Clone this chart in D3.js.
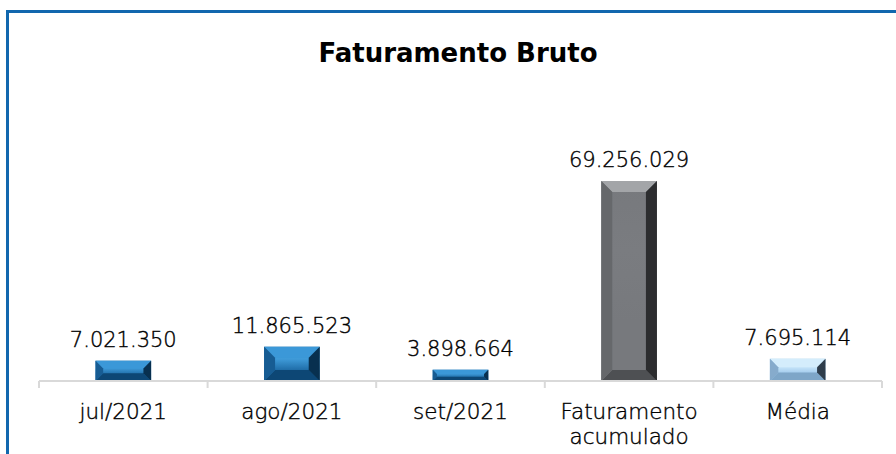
<!DOCTYPE html>
<meta charset="utf-8">
<style>
body { margin: 0; background: #fff; }
svg { display: block; }
.title { font-family: "DejaVu Sans", sans-serif; font-weight: bold; font-size: 26px; fill: #000; }
.val, .cat { font-family: "DejaVu Sans", sans-serif; font-weight: 300; font-size: 21px; fill: #000; stroke: #000; stroke-width: 0.4px; }
.cat { font-size: 21.5px; }
.axis path, .axis line { stroke: #d9d9d9; stroke-width: 2px; }
</style>
<svg width="896" height="454"></svg>
<script src="https://cdn.jsdelivr.net/npm/d3@7"></script>
<script>

var categories = ["jul/2021", "ago/2021", "set/2021", "Faturamento acumulado", "Média"];
var values = [7021350, 11865523, 3898664, 69256029, 7695114];
var styles = ["blue", "blue", "blue", "gray", "light"];

var svg = d3.select("svg");

var palette = {
  blue:  {face: "#1d6aa5", top: "#3b98d8", bottom: "#0d4775", left: "#175c93", right: "#08304f", stripe: "#3f9bd9"},
  gray:  {face: "#77797d", top: "#a3a5a8", bottom: "#4e5053", left: "#66686b", right: "#2c2d2f", stripe: "#7a7c80"},
  light: {face: "#9cc6ea", top: "#d4edfc", bottom: "#7ea6c8", left: "#86abcc", right: "#2e3c4a", stripe: "#c8e6fa"}
};

var defs = svg.append("defs");
Object.keys(palette).forEach(function(k) {
  var gr = defs.append("linearGradient").attr("id", "face-" + k)
      .attr("x1", 0).attr("y1", 0).attr("x2", 0).attr("y2", 1);
  gr.append("stop").attr("offset", "0%").attr("stop-color", palette[k].face);
  gr.append("stop").attr("offset", "35%").attr("stop-color", palette[k].stripe);
  gr.append("stop").attr("offset", "70%").attr("stop-color", palette[k].face);
  gr.append("stop").attr("offset", "100%").attr("stop-color", palette[k].face);
});

// blue frame top + left
svg.append("path")
    .attr("d", "M7.5,460V11.5H900")
    .attr("fill", "none")
    .attr("stroke", "#1167ae")
    .attr("stroke-width", 3);

svg.append("text")
    .attr("class", "title")
    .attr("x", 458)
    .attr("y", 62)
    .attr("text-anchor", "middle")
    .text("Faturamento Bruto");

var x = d3.scaleBand().domain(categories).range([39, 882]).padding(0);
var y = d3.scaleLinear().domain([0, 80000000]).range([381, 150]);
var barFrac = 0.33;

var fmt = d3.formatLocale({decimal: ",", thousands: ".", grouping: [3], currency: ["R$", ""]}).format(",d");

// bars
var bars = svg.selectAll(".bar")
  .data(categories.map(function(c, i) { return {cat: c, v: values[i], s: styles[i]}; }))
  .enter().append("g")
    .attr("class", "bar");

bars.each(function(d) {
  var g = d3.select(this),
      w = x.bandwidth() * barFrac,
      x0 = x(d.cat) + (x.bandwidth() - w) / 2,
      x1 = x0 + w,
      y0 = y(d.v),
      y1 = y(0),
      h = y1 - y0,
      b = Math.min(11, h * 0.38),
      c = palette[d.s];
  var poly = function(pts, fill) {
    g.append("polygon").attr("points", pts.map(function(p) { return p.join(","); }).join(" ")).attr("fill", fill);
  };
  g.append("rect").attr("x", x0).attr("y", y0).attr("width", w).attr("height", h).attr("fill", "url(#face-" + d.s + ")");
  poly([[x0, y0], [x1, y0], [x1 - b, y0 + b], [x0 + b, y0 + b]], c.top);
  poly([[x0, y1], [x1, y1], [x1 - b, y1 - b], [x0 + b, y1 - b]], c.bottom);
  poly([[x0, y0], [x0 + b, y0 + b], [x0 + b, y1 - b], [x0, y1]], c.left);
  poly([[x1, y0], [x1 - b, y0 + b], [x1 - b, y1 - b], [x1, y1]], c.right);
});

// value labels
svg.selectAll(".val")
  .data(values)
  .enter().append("text")
    .attr("class", "val")
    .attr("x", function(d, i) { return x(categories[i]) + x.bandwidth() / 2; })
    .attr("y", function(d) { return y(d) - 14; })
    .attr("text-anchor", "middle")
    .text(function(d) { return fmt(d); });

// axis line with ticks at category boundaries
var axis = svg.append("g").attr("class", "axis");
axis.append("path").attr("d", "M39,381H882").attr("fill", "none");
axis.selectAll("line")
  .data(categories.map(function(c) { return x(c); }).concat([x.range()[1]]))
  .enter().append("line")
    .attr("x1", function(d) { return d; })
    .attr("x2", function(d) { return d; })
    .attr("y1", 381)
    .attr("y2", 388);

// category labels (wrap on space for long ones)
svg.selectAll(".cat")
  .data(categories)
  .enter().append("text")
    .attr("class", "cat")
    .attr("x", function(d) { return x(d) + x.bandwidth() / 2; })
    .attr("y", 419)
    .attr("text-anchor", "middle")
    .each(function(d) {
      var t = d3.select(this);
      var words = d.indexOf("/") < 0 && d.indexOf(" ") > 0 ? d.split(" ") : [d];
      words.forEach(function(w, k) {
        t.append("tspan").attr("x", x(d) + x.bandwidth() / 2).attr("dy", k ? 25 : 0).text(w);
      });
    });

</script>
